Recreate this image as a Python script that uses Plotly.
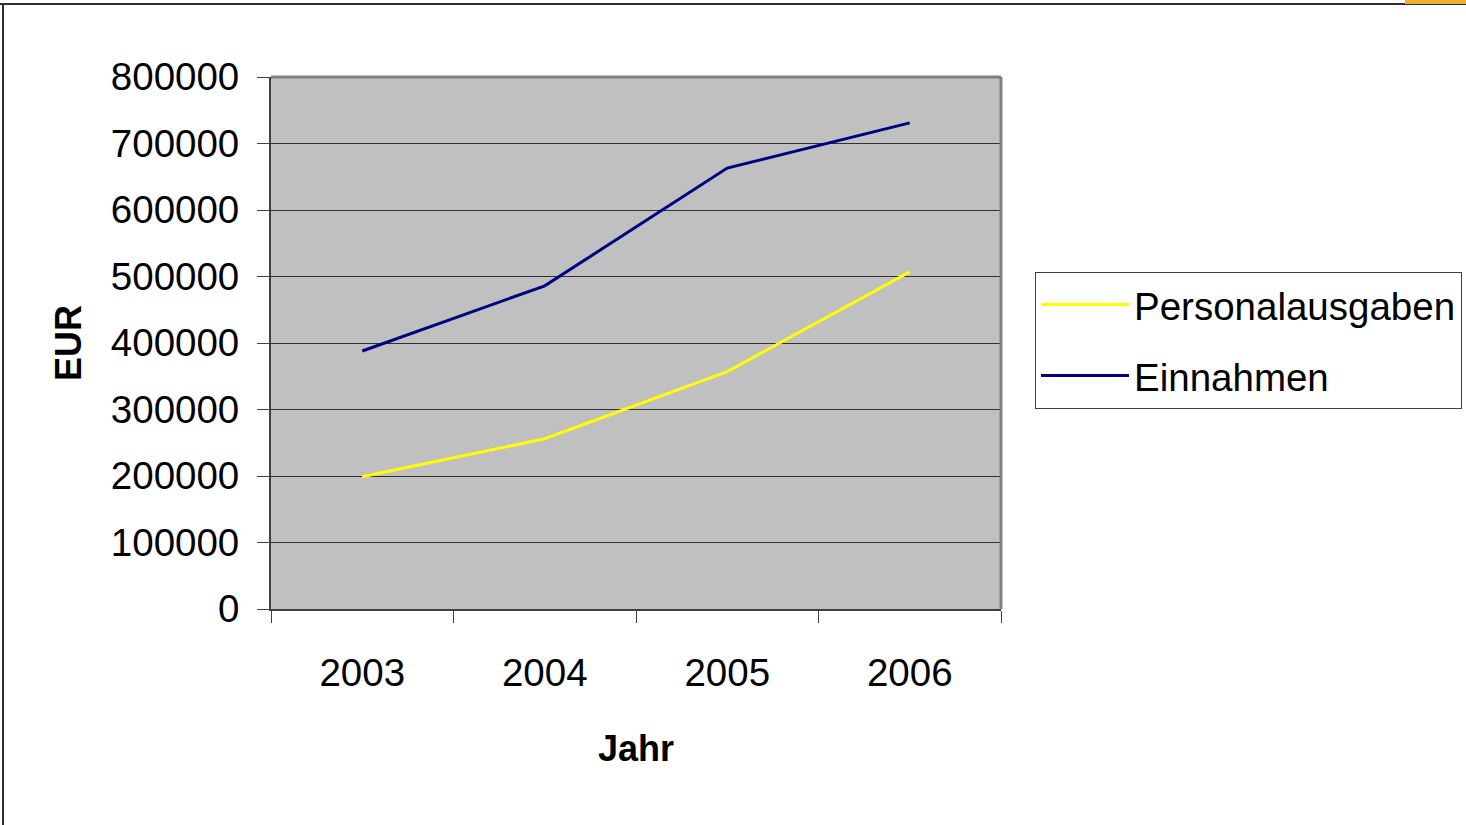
import plotly.graph_objects as go

years = ["2003", "2004", "2005", "2006"]
personalausgaben = [199000, 256000, 357000, 507000]
einnahmen = [388000, 486000, 663000, 731000]
y_ticks = [0, 100000, 200000, 300000, 400000, 500000, 600000, 700000, 800000]

W, H = 1466, 825
L, R, T, B = 271, 1001, 77, 609

def px(x):
    return (x - L) / (R - L)

def py(y):
    return (B - y) / (B - T)

FONT = "Liberation Sans, Arial, sans-serif"
TICK = 38.5

fig = go.Figure()
fig.add_trace(go.Scatter(x=years, y=personalausgaben, mode="lines", name="Personalausgaben",
                         legendgroup="p", line=dict(color="#FFFF00", width=3)))
fig.add_trace(go.Scatter(x=years, y=einnahmen, mode="lines", name="Einnahmen",
                         legendgroup="e", line=dict(color="#000080", width=3)))

fig.update_layout(
    width=W, height=H,
    margin=dict(l=L, r=W - R, t=T, b=H - B, pad=0, autoexpand=False),
    paper_bgcolor="white",
    plot_bgcolor="#C0C0C0",
    font=dict(family=FONT, size=TICK, color="black"),
    showlegend=True,
    legend=dict(
        xref="container", yref="container",
        x=1035 / W, y=1 - 272 / H, xanchor="left", yanchor="top",
        bgcolor="white", bordercolor="#404040", borderwidth=1,
        font=dict(family=FONT, size=TICK, color="black"),
        itemwidth=88,
        traceorder="grouped",
        tracegroupgap=18,
    ),
    xaxis=dict(
        type="category", range=[-0.5, 3.5],
        tickson="boundaries", ticks="outside", ticklen=12, tickwidth=1, tickcolor="#404040",
        showline=True, linecolor="#404040", linewidth=2,
        showgrid=False, zeroline=False,
        ticklabelstandoff=29,
        tickfont=dict(size=TICK),
        title=dict(text="<b>Jahr</b>", standoff=43, font=dict(family=FONT, size=36)),
    ),
    yaxis=dict(
        range=[0, 800000], tickmode="array", tickvals=y_ticks,
        ticktext=[str(v) for v in y_ticks],
        ticks="outside", ticklen=12, tickwidth=1, tickcolor="#404040",
        showline=True, linecolor="#404040", linewidth=2,
        showgrid=True, gridcolor="#303030", gridwidth=1,
        zeroline=False,
        ticklabelstandoff=10,
        tickfont=dict(size=TICK),
        title=dict(text="<b>EUR</b>", standoff=18, font=dict(family=FONT, size=36)),
    ),
    shapes=[
        dict(type="line", xref="paper", yref="paper", x0=0, x1=1, y0=1, y1=1,
             line=dict(color="#808080", width=3), layer="above"),
        dict(type="line", xref="paper", yref="paper", x0=1, x1=1, y0=0, y1=1,
             line=dict(color="#808080", width=3), layer="above"),
        dict(type="line", xref="paper", yref="paper", x0=px(0), x1=px(1466), y0=py(4), y1=py(4),
             line=dict(color="#303030", width=2), layer="above"),
        dict(type="line", xref="paper", yref="paper", x0=px(3), x1=px(3), y0=py(4), y1=py(825),
             line=dict(color="#303030", width=2), layer="above"),
        dict(type="rect", xref="paper", yref="paper", x0=px(1405), x1=px(1466), y0=py(0), y1=py(4),
             line=dict(width=0), fillcolor="#F0B030", layer="above"),
    ],
)

fig.write_html("out.html", config={"displayModeBar": False},
               post_script="document.body.style.margin='0';document.body.style.overflow='hidden';")
